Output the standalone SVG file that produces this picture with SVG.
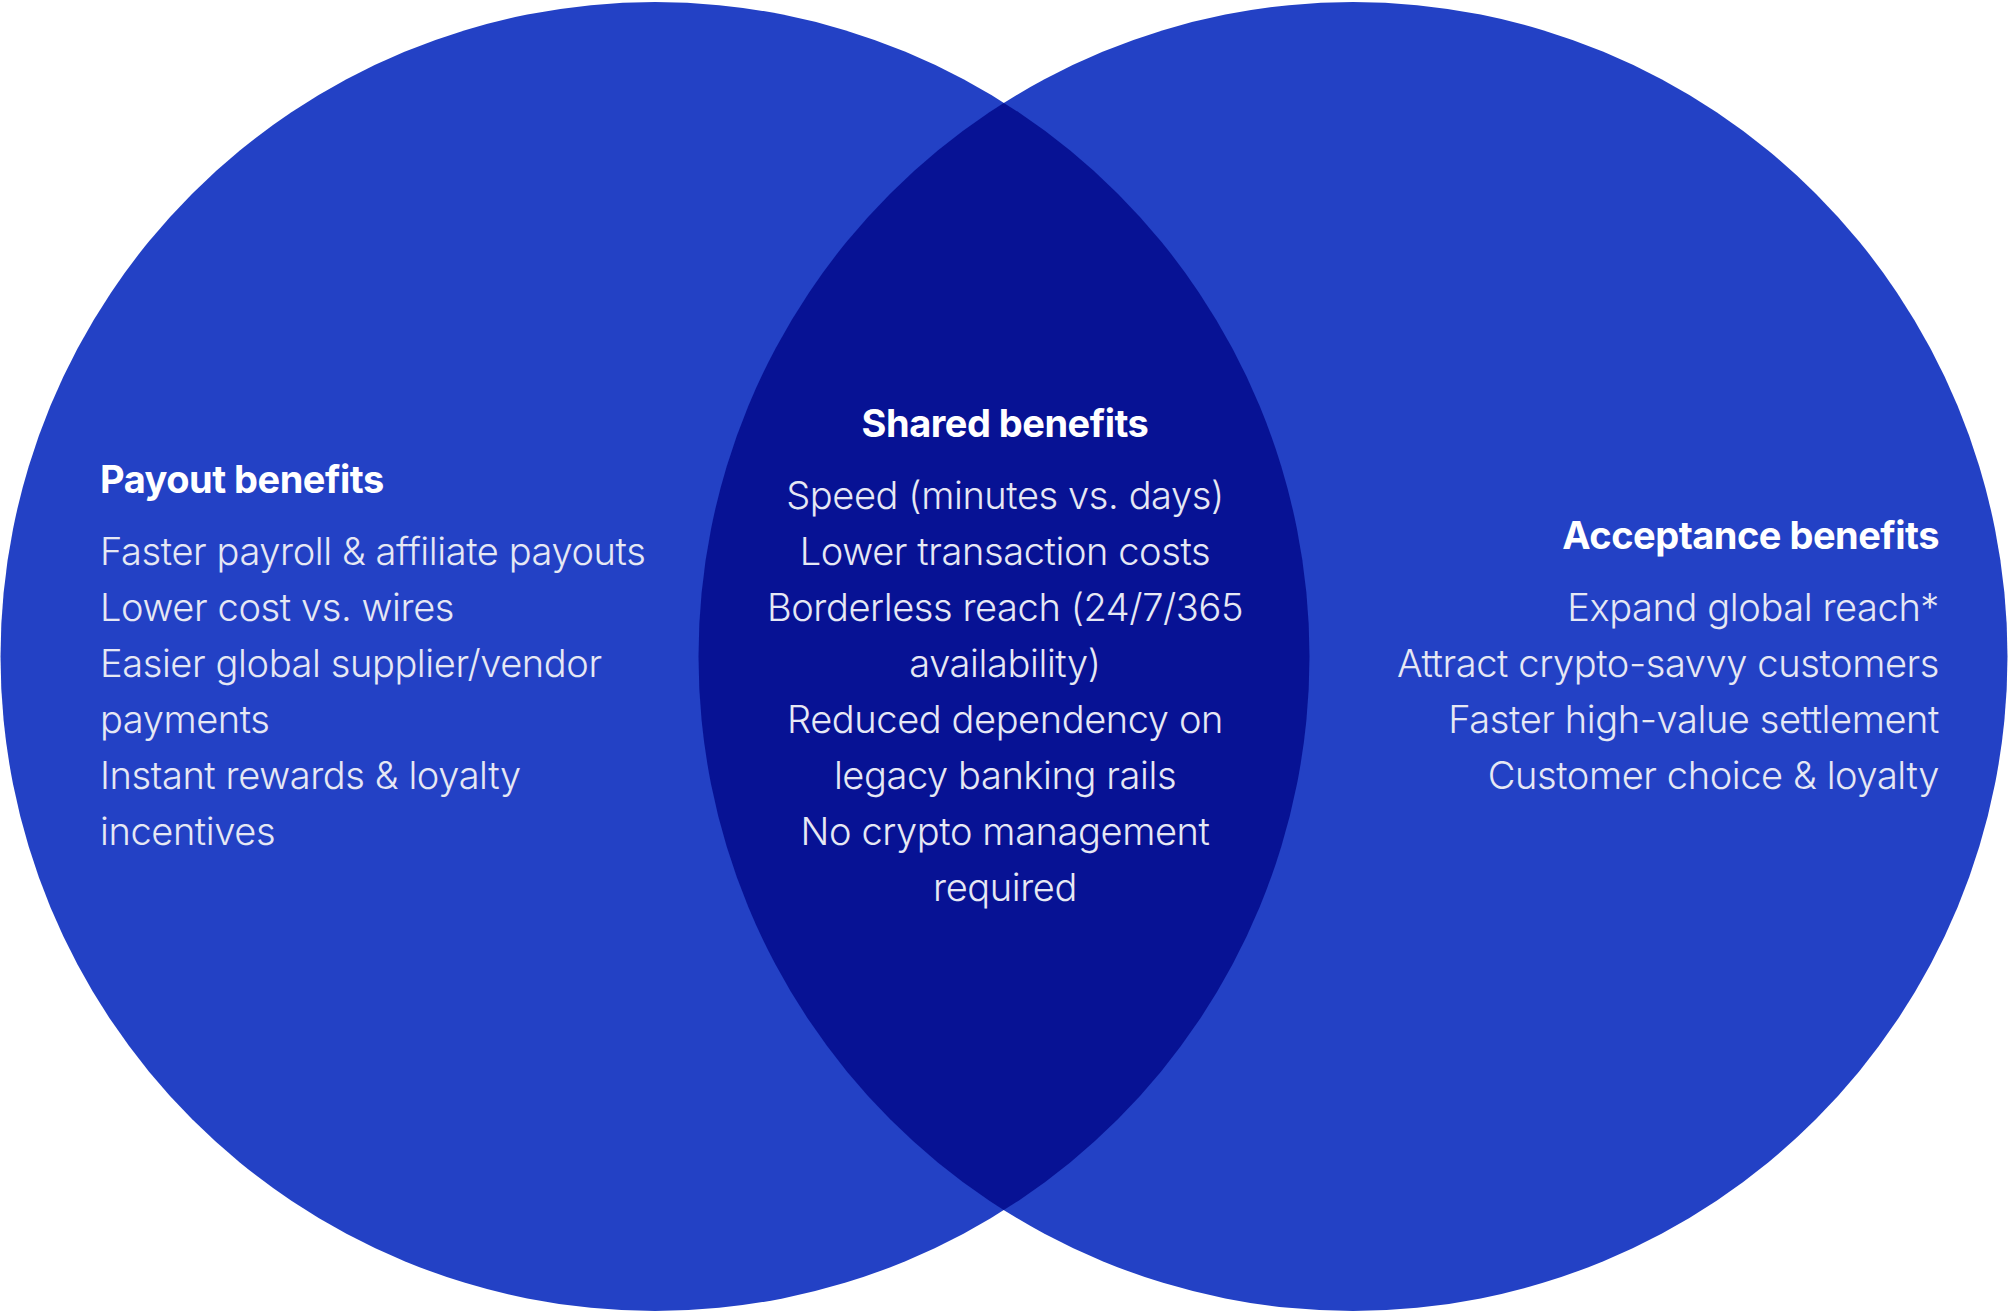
<svg xmlns="http://www.w3.org/2000/svg" width="2008" height="1313" viewBox="0 0 2008 1313">
  <style>
    .circle { fill: #2341C5; }
    .lens { fill: #071294; }
    .head { font-family: Inter, "Liberation Sans", sans-serif; font-weight: 700; font-size: 38px; letter-spacing: -0.5px; fill: #FFFFFF; }
    .body { font-family: Inter, "Liberation Sans", sans-serif; font-weight: 300; font-size: 38px; letter-spacing: -0.4px; fill: #E6E8F4; }
  </style>
  <defs>
    <clipPath id="clipLeft">
      <circle cx="655" cy="656.5" r="654.5"/>
    </clipPath>
  </defs>
  <rect width="2008" height="1313" fill="#FFFFFF"/>
  <g id="payout-circle">
    <circle class="circle" cx="655" cy="656.5" r="654.5"/>
  </g>
  <g id="acceptance-circle">
    <circle class="circle" cx="1353" cy="656.5" r="654.5"/>
  </g>
  <g id="shared-lens">
    <circle class="lens" cx="1353" cy="656.5" r="654.5" clip-path="url(#clipLeft)"/>
  </g>
  <g id="payout-text">
    <text class="head" x="100" y="493">Payout benefits</text>
    <text class="body" x="100" y="565">Faster payroll &amp; affiliate payouts</text>
    <text class="body" x="100" y="621">Lower cost vs. wires</text>
    <text class="body" x="100" y="677">Easier global supplier/vendor</text>
    <text class="body" x="100" y="733">payments</text>
    <text class="body" x="100" y="789">Instant rewards &amp; loyalty</text>
    <text class="body" x="100" y="845">incentives</text>
  </g>
  <g id="shared-text" text-anchor="middle">
    <text class="head" x="1005" y="437">Shared benefits</text>
    <text class="body" x="1005" y="509">Speed (minutes vs. days)</text>
    <text class="body" x="1005" y="565">Lower transaction costs</text>
    <text class="body" x="1005" y="621">Borderless reach (24/7/365</text>
    <text class="body" x="1005" y="677">availability)</text>
    <text class="body" x="1005" y="733">Reduced dependency on</text>
    <text class="body" x="1005" y="789">legacy banking rails</text>
    <text class="body" x="1005" y="845">No crypto management</text>
    <text class="body" x="1005" y="901">required</text>
  </g>
  <g id="acceptance-text" text-anchor="end">
    <text class="head" x="1939" y="549">Acceptance benefits</text>
    <text class="body" x="1939" y="621">Expand global reach*</text>
    <text class="body" x="1939" y="677">Attract crypto-savvy customers</text>
    <text class="body" x="1939" y="733">Faster high-value settlement</text>
    <text class="body" x="1939" y="789">Customer choice &amp; loyalty</text>
  </g>
  <g id="connectors"/>
</svg>
